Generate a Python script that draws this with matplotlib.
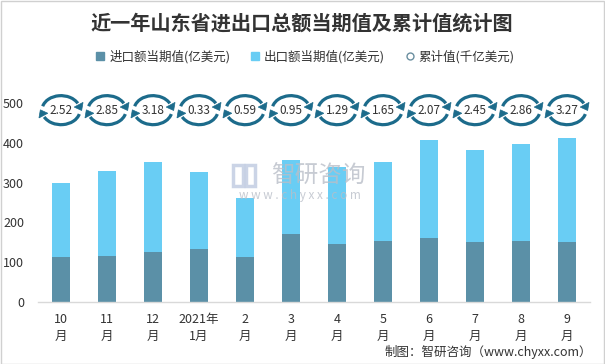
import matplotlib
matplotlib.use("Agg")
import matplotlib.pyplot as plt
import numpy as np
from matplotlib.patches import Arc, Polygon, Rectangle
from matplotlib.lines import Line2D

plt.rcParams['font.family'] = ['Noto Sans CJK SC', 'DejaVu Sans']

# ---- data ----
categories = ["10\n月", "11\n月", "12\n月", "2021年\n1月", "2\n月", "3\n月",
              "4\n月", "5\n月", "6\n月", "7\n月", "8\n月", "9\n月"]
imports = [113, 116, 126, 133, 113, 171, 146, 153, 161, 151, 153, 151]
exports = [187, 212, 227, 193, 148, 187, 194, 200, 245, 230, 243, 260]
cumulative = [2.52, 2.85, 3.18, 0.33, 0.59, 0.95, 1.29, 1.65, 2.07, 2.45, 2.86, 3.27]
yticks = [0, 100, 200, 300, 400, 500]

title = "近一年山东省进出口总额当期值及累计值统计图"
legend_labels = ["进口额当期值(亿美元)", "出口额当期值(亿美元)", "累计值(千亿美元)"]
source = "制图：智研咨询（www.chyxx.com）"

# ---- styles ----
c_imp = "#5b90a7"
c_exp = "#69cdf4"
c_ring = "#1c6b8b"
txt = "#333333"

W, H = 605, 364
fig = plt.figure(figsize=(W / 100, H / 100), dpi=100)
fig.patch.set_facecolor("white")
fig.add_artist(Rectangle((0.5 / W, 0.5 / H), 1 - 1.5 / W, 1 - 1.5 / H,
                         transform=fig.transFigure, fill=False,
                         edgecolor="#d0d0d0", lw=1.0))

ax = fig.add_axes([38 / W, 62 / H, 552 / W, 199 / H])
x = np.arange(len(categories))
ax.bar(x, imports, width=0.39, color=c_imp, zorder=2)
ax.bar(x, exports, width=0.39, bottom=imports, color=c_exp, zorder=2)
ax.set_xlim(-0.5, len(categories) - 0.5)
ax.set_ylim(0, 500)
ax.set_yticks(yticks)
ax.set_yticklabels([str(v) for v in yticks], fontsize=9, color=txt)
ax.set_xticks(x)
ax.set_xticklabels(categories, fontsize=9, color=txt, linespacing=1.35)
ax.tick_params(axis='both', length=0)
ax.tick_params(axis='y', pad=10)
ax.tick_params(axis='x', pad=8)
for s in ["top", "right", "left"]:
    ax.spines[s].set_visible(False)
ax.spines["bottom"].set_color("#d9d9d9")
ax.spines["bottom"].set_linewidth(1.0)

# ---- cumulative ring markers ----
ring_level = 482
a, b = 19, 14.5
lw = 2.3


def head(cx, cy, th_deg):
    th = np.radians(th_deg)
    px, py = cx + a * np.cos(th), cy + b * np.sin(th)
    tx, ty = a * np.sin(th), -b * np.cos(th)
    n = np.hypot(tx, ty)
    tx, ty = tx / n, ty / n
    nx, ny = -ty, tx
    L, w = 6.5, 5.0
    pts = [(px + tx * L, py + ty * L),
           (px + nx * w, py + ny * w),
           (px - nx * w, py - ny * w)]
    return Polygon(pts, closed=True, facecolor=c_ring, edgecolor=c_ring,
                   lw=0.5, transform=None, zorder=5)


fig.canvas.draw()
for i, v in enumerate(cumulative):
    cx, cy = ax.transData.transform((x[i], ring_level))
    for t1, t2, th in [(22, 168, 22), (202, 348, 202)]:
        arc = Arc((cx, cy), 2 * a, 2 * b, theta1=t1, theta2=t2,
                  color=c_ring, lw=lw, transform=None, zorder=5)
        fig.add_artist(arc)
        fig.add_artist(head(cx, cy, th))
    ax.text(x[i], ring_level, f"{v:.2f}", ha="center", va="center",
            fontsize=8.5, color=txt, clip_on=False, zorder=6)

# ---- title & legend ----
fig.text(302 / W, 1 - 23 / H, title, ha="center", va="center", fontsize=14.5,
         fontweight="bold", color=txt)
handles = [
    Line2D([], [], marker="s", ls="none", markersize=6, color=c_imp),
    Line2D([], [], marker="s", ls="none", markersize=6, color=c_exp),
    Line2D([], [], marker="o", ls="none", markersize=5, markerfacecolor="white",
           markeredgecolor="#6a8fa0", markeredgewidth=1),
]
fig.legend(handles, legend_labels, loc="center", ncol=3,
           bbox_to_anchor=(305 / W, 1 - 57 / H), frameon=False,
           fontsize=9, handlelength=0.8, handletextpad=0.3,
           columnspacing=1.6, labelcolor=txt)

# ---- watermark ----
wm = "#b9bec8"
fig.add_artist(Rectangle((233 / W, 1 - 186 / H), 10 / W, 21 / H,
                         transform=fig.transFigure, fill=False,
                         edgecolor="#b5c3dc", lw=2.5, alpha=0.7))
fig.add_artist(Rectangle((246 / W, 1 - 186 / H), 9 / W, 21 / H,
                         transform=fig.transFigure, fill=False,
                         edgecolor="#b5c3dc", lw=2.5, alpha=0.7))
fig.text(318 / W, 1 - 176 / H, "智研咨询", ha="center", va="center",
         fontsize=17, color=wm, alpha=0.8)
fig.text(300 / W, 1 - 195 / H, "w w w . c h y x x . c o m", ha="center",
         va="center", fontsize=8.5, color=wm, alpha=0.8)

fig.text(592 / W, 1 - 352 / H, source, ha="right", va="center",
         fontsize=9, color=txt)

fig.savefig("out.png", dpi=100, facecolor="white")
